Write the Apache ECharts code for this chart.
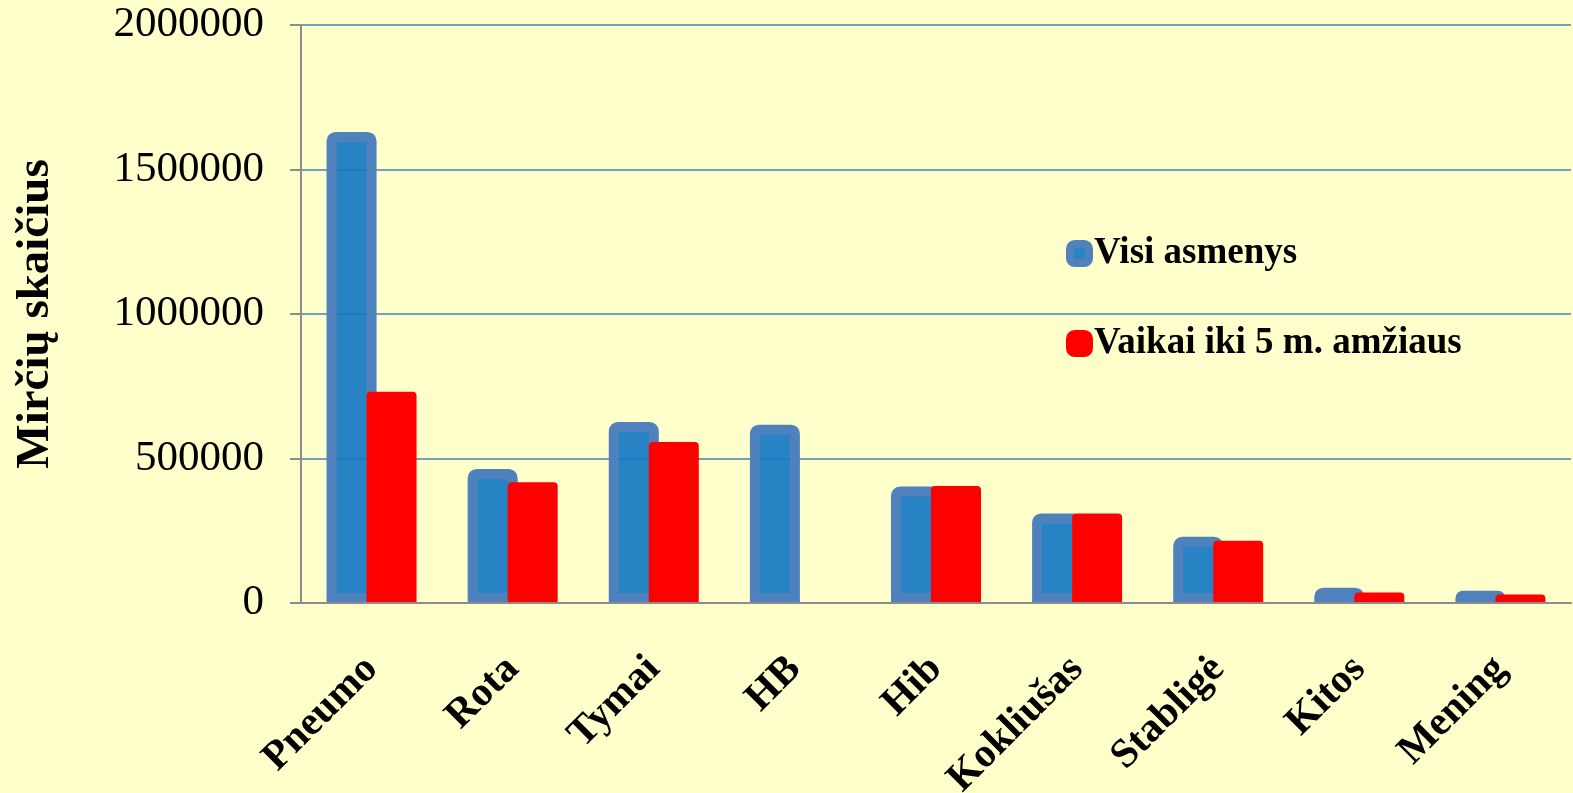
<!DOCTYPE html>
<html>
<head>
<meta charset="utf-8">
<script src="https://cdn.jsdelivr.net/npm/echarts@6/dist/echarts.min.js"></script>
<style>
html,body{margin:0;padding:0;background:#ffffcc;}
#c{width:1573px;height:793px;}
</style>
</head>
<body>
<div id="c"></div>
<script>
const categories = ['Pneumo', 'Rota', 'Tymai', 'HB', 'Hib', 'Kokliušas', 'Stabligė', 'Kitos', 'Mening'];
const seriesNames = ['Visi asmenys', 'Vaikai iki 5 m. amžiaus'];
const allPersons = [1630000, 464000, 626000, 617000, 403000, 310000, 229000, 53000, 42000];
const under5 = [731000, 418000, 557000, 0, 405000, 310000, 215000, 36000, 29000];
const yAxisTitle = 'Mirčių skaičius';

const FONT = 'Liberation Serif';
const chart = echarts.init(document.getElementById('c'));
chart.setOption({
  backgroundColor: '#ffffcc',
  animation: false,
  grid: { left: 301, right: 2, top: 25, bottom: 190, containLabel: false, outerBoundsMode: 'none' },
  legend: {
    orient: 'vertical',
    left: 1061,
    top: 230,
    itemWidth: 19,
    itemHeight: 19,
    itemGap: 53,
    icon: 'roundRect',
    textStyle: { fontFamily: FONT, fontWeight: 'bold', fontSize: 37, color: '#000' },
    data: [
      { name: seriesNames[0], itemStyle: { color: '#2a84c4', borderColor: '#4f81bd', borderWidth: 8 } },
      { name: seriesNames[1], itemStyle: { color: '#ff0000', borderColor: '#ff0000', borderWidth: 8 } }
    ]
  },
  xAxis: {
    type: 'category',
    data: categories,
    z: 10,
    axisLine: { show: true, lineStyle: { color: '#8c8c8c', width: 2 } },
    axisTick: { show: false },
    axisLabel: {
      interval: 0, rotate: 45, margin: 60,
      fontFamily: FONT, fontWeight: 'bold', fontSize: 41, color: '#000'
    }
  },
  yAxis: {
    type: 'value',
    min: 0, max: 2000000, interval: 500000,
    name: yAxisTitle,
    nameLocation: 'middle',
    nameGap: 242,
    nameRotate: 90,
    nameTextStyle: { fontFamily: FONT, fontWeight: 'bold', fontSize: 47, color: '#000' },
    axisLine: { show: true, lineStyle: { color: '#8c8c8c', width: 2 } },
    axisTick: { show: true, length: 11, lineStyle: { color: '#8c8c8c', width: 2 } },
    axisLabel: { margin: 37, fontFamily: FONT, fontSize: 43, color: '#000', formatter: v => String(v) },
    splitLine: { show: true, lineStyle: { color: '#4a7ebb', width: 1.5 } }
  },
  series: [
    {
      name: seriesNames[0], type: 'bar', data: allPersons, barWidth: 50, z: 2,
      itemStyle: { color: 'rgba(17,118,195,0.9)', borderColor: '#4f81bd', borderWidth: 10, borderRadius: [4, 4, 0, 0] }
    },
    {
      name: seriesNames[1], type: 'bar', data: under5, barWidth: 50, barGap: '-20%', z: 3,
      itemStyle: { color: '#ff0000', borderRadius: [4, 4, 0, 0] }
    }
  ]
});
</script>
</body>
</html>
